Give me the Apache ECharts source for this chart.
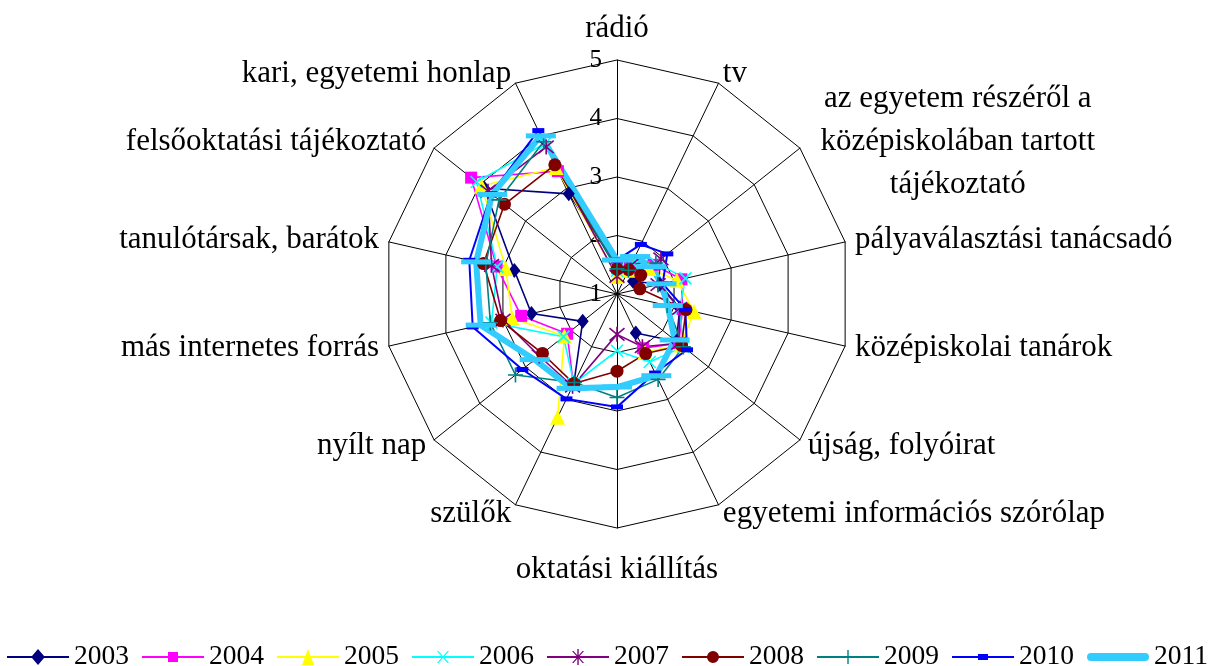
<!DOCTYPE html>
<html><head><meta charset="utf-8">
<script src="https://cdn.jsdelivr.net/npm/echarts@6/dist/echarts.min.js"></script>
<style>html,body{margin:0;padding:0;background:#fff}#c{width:1215px;height:666px}</style>
</head><body><div id="c"></div>
<script>
// categories in clockwise order starting at the top
const categories = ['rádió', 'tv', 'az egyetem részéről a\nközépiskolában tartott\ntájékoztató',
  'pályaválasztási tanácsadó', 'középiskolai tanárok', 'újság, folyóirat',
  'egyetemi információs szórólap', 'oktatási kiállítás', 'szülők', 'nyílt nap',
  'más internetes forrás', 'tanulótársak, barátok', 'felsőoktatási tájékoztató', 'kari, egyetemi honlap'];
const tickLabels = ['1', '2', '3', '4', '5'];
const years = ['2003', '2004', '2005', '2006', '2007', '2008', '2009', '2010', '2011'];
// null = no answer recorded (gap in the line)
const v2003 = [1.50, 1.45, 1.35, 1.75, 2.10, 2.30, 1.74, null, 2.70, 1.75, 2.50, 2.80, 3.90, 2.90];
const v2004 = [1.45, 1.50, 1.80, 2.13, 2.15, 2.35, 2.03, null, 2.72, 2.09, 2.68, 3.11, 4.19, 3.33];
const v2005 = [1.30, 1.45, 1.70, 2.05, 2.35, 2.40, 2.10, null, 3.34, 2.15, 2.84, 2.95, 3.96, 3.40];
const v2006 = [1.40, 1.60, 1.85, 2.20, 2.10, 2.45, 2.29, 1.97, 2.70, 2.17, 3.20, 3.10, 4.07, 3.85];
const v2007 = [1.30, 1.55, 1.96, 1.72, 2.10, 2.35, 2.00, 1.69, 2.75, 2.70, 3.00, 3.20, 3.82, 3.79];
const v2008 = [1.43, 1.46, 1.52, 1.40, 2.21, 2.41, 2.13, 2.32, 2.70, 2.63, 3.04, 3.34, 3.46, 3.45];
const v2009 = [1.43, 1.45, 1.85, 1.72, 1.88, 2.45, 2.62, 2.77, 2.68, 3.22, 3.22, 3.30, 3.58, 3.89];
const v2010 = [1.58, 1.94, 2.10, 1.80, 2.20, 2.53, 2.50, 2.93, 2.99, 3.07, 3.53, 3.59, 3.75, 4.10];
const v2011 = [1.58, 1.71, 1.75, 1.78, 1.89, 2.26, 2.55, 2.59, 2.79, 2.80, 3.39, 3.47, 3.73, 4.00];
const values = [v2003, v2004, v2005, v2006, v2007, v2008, v2009, v2010, v2011];

const colors = ['#000080', '#FF00FF', '#FFFF00', '#00FFFF', '#800080', '#800000', '#008080', '#0000FF', '#33CCFF'];
const FONT = 'Liberation Serif';
const N = categories.length;
const CENTER = [617, 294];
const RADIUS = 234;

// ECharts lays radar indicators counter-clockwise; reorder so they read clockwise
const order = [0].concat(categories.map((_, i) => i).slice(1).reverse());
const reorder = arr => order.map(i => arr[i]);

const X = 'path://M0,0L10,10M10,0L0,10';
const STAR = 'path://M0,1L10,11M10,1L0,11M5,0L5,12';
const PLUS = 'path://M5,0L5,10M0,5L10,5';
const markers = [
  {symbol: 'diamond', size: [12, 15], stroke: false},
  {symbol: 'rect', size: 12, stroke: false},
  {symbol: 'triangle', size: 15, stroke: false},
  {symbol: X, size: 12, stroke: true},
  {symbol: STAR, size: 15, stroke: true},
  {symbol: 'circle', size: 13, stroke: false},
  {symbol: PLUS, size: 15, stroke: true},
  {symbol: 'rect', size: [12, 5], stroke: false},
  {symbol: 'rect', size: [30, 5], stroke: false}
];
const lineWidths = [1.6, 1.6, 1.6, 1.6, 1.6, 1.6, 1.6, 2, 6];

// legend icons: line + marker, drawn in a 62x16 box
const EXT = 'M31,0Z M31,16Z ';
const LINE = 'M0,7 H62 V9 H0 Z ';
const legendIcons = [
  'path://M0,7 H25 L31,0 L37,7 H62 V9 H37 L31,16 L25,9 H0 Z',
  'path://' + EXT + 'M0,7 H26 V3 H36 V7 H62 V9 H36 V13 H26 V9 H0 Z',
  'path://M0,7 H28.4 L31,0 L33.6,7 H62 V9 H34.4 L37,16 H25 L27.6,9 H0 Z',
  'path://' + EXT + LINE + 'M25,2 L26.5,2 L37,14 L35.5,14 Z M35.5,2 L37,2 L26.5,14 L25,14 Z',
  'path://' + LINE + 'M25,2 L26.5,2 L37,14 L35.5,14 Z M35.5,2 L37,2 L26.5,14 L25,14 Z M30.3,0 H31.7 V16 H30.3 Z',
  'path://' + EXT + LINE + 'M31,2 A6,6 0 1 1 30.99,2 Z',
  'path://' + EXT + LINE + 'M30.3,1 H31.7 V15 H30.3 Z',
  'path://' + EXT + LINE + 'M26,5 H36 V11 H26 Z',
  'path://' + EXT + 'M4,4 H58 A4,4 0 0 1 58,12 H4 A4,4 0 0 1 4,4 Z'
];

const nameGaps = {0: 16, 7: 26};
const indicator = categories.map((name, i) => {
  const ind = {name: name, min: 1, max: 5};
  if (nameGaps[i] != null) ind.nameGap = nameGaps[i];
  if (i === 0) {
    ind.axisLabel = {show: true, color: '#000', fontFamily: FONT, fontSize: 25, margin: 15,
      formatter: v => tickLabels[Math.round(v) - 1] || ''};
  }
  return ind;
});

// series on a polar system laid exactly over the radar grid (lines can have gaps there)
const series = years.map((y, k) => {
  const m = markers[k];
  const vals = values[k];
  const data = vals.map((v, i) => [v == null ? '-' : v, i]);
  data.push({value: [vals[0] == null ? '-' : vals[0], N], symbol: 'none'}); // close the loop
  return {
    type: 'line',
    coordinateSystem: 'polar',
    name: y,
    symbol: m.symbol,
    symbolSize: m.size,
    showSymbol: true,
    showAllSymbol: true,
    connectNulls: false,
    lineStyle: {color: colors[k], width: lineWidths[k]},
    itemStyle: m.stroke ? {color: colors[k], borderColor: colors[k], borderWidth: 1.6}
                        : {color: colors[k], borderWidth: 0},
    emphasis: {disabled: true},
    silent: true,
    data: data
  };
});

const chart = echarts.init(document.getElementById('c'), null, {renderer: 'canvas'});
chart.setOption({
  animation: false,
  backgroundColor: '#fff',
  legend: {
    top: 638,
    left: 'center',
    itemWidth: 62,
    itemHeight: 16,
    itemGap: 13,
    textStyle: {fontFamily: FONT, fontSize: 27.5, color: '#000'},
    data: years.map((y, k) => ({name: y, icon: legendIcons[k], itemStyle: {color: colors[k], borderWidth: 0}}))
  },
  polar: {center: CENTER, radius: RADIUS},
  angleAxis: {type: 'value', min: 0, max: N, startAngle: 90, clockwise: true, show: false},
  radiusAxis: {type: 'value', min: 1, max: 5, show: false},
  radar: {
    center: CENTER,
    radius: RADIUS,
    startAngle: 90,
    splitNumber: 4,
    shape: 'polygon',
    indicator: reorder(indicator),
    axisName: {
      color: '#000',
      fontFamily: FONT,
      fontSize: 31,
      formatter: function (v) {
        if (v.indexOf('\n') >= 0) {
          return v.split('\n').map(s => '{c|' + s + '}').join('\n');
        }
        return v;
      },
      rich: {c: {width: 300, align: 'center', fontFamily: FONT, fontSize: 31, lineHeight: 43, color: '#000'}}
    },
    nameGap: 10,
    axisLine: {lineStyle: {color: '#000', width: 1}},
    axisTick: {show: false},
    axisLabel: {show: false},
    splitLine: {lineStyle: {color: '#000', width: 1}},
    splitArea: {show: false}
  },
  series: series
});
</script>
</body></html>
